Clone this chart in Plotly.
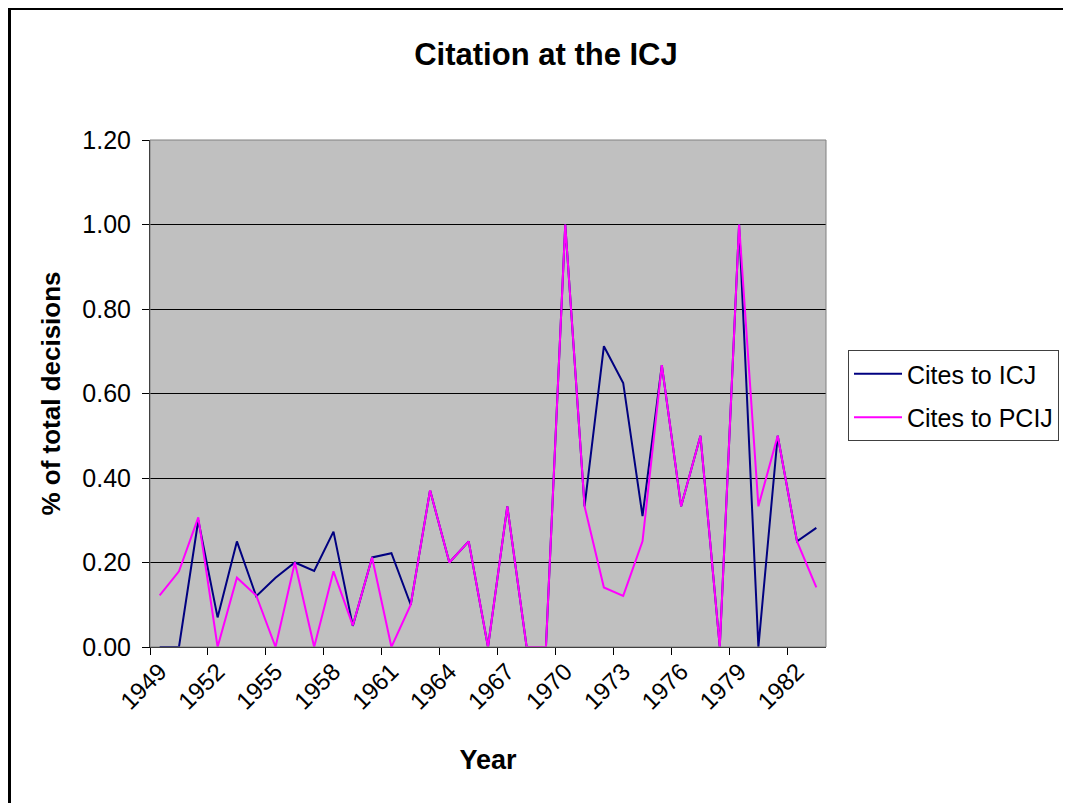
import plotly.graph_objects as go

years = list(range(1949, 1984))
cites_icj = [0, 0, 0.30, 0.07, 0.25, 0.12, 0.164, 0.20, 0.18, 0.273, 0.05, 0.212, 0.222, 0.10,
             0.371, 0.20, 0.25, 0, 0.333, 0, 0, 1.00, 0.333, 0.712, 0.625, 0.31, 0.667, 0.333,
             0.50, 0, 1.00, 0, 0.50, 0.25, 0.282]
cites_pcij = [0.122, 0.179, 0.307, 0, 0.164, 0.122, 0, 0.20, 0, 0.179, 0.051, 0.212, 0, 0.10,
              0.371, 0.20, 0.25, 0, 0.333, 0, 0, 1.00, 0.333, 0.141, 0.121, 0.25, 0.667, 0.333,
              0.50, 0, 1.00, 0.333, 0.50, 0.25, 0.141]
tick_years = list(range(1949, 1984, 3))
y_ticks = [0, 0.2, 0.4, 0.6, 0.8, 1.0, 1.2]

# page body has an 8px margin; work in figure coordinates (screen - 8)
OFF = 8
W, H = 1071 - OFF, 803 - OFF
L, R, T, B = 150 - OFF, 826 - OFF, 140 - OFF, 647 - OFF

font = "Liberation Sans, Arial, sans-serif"

fig = go.Figure()
fig.add_trace(go.Scatter(x=years, y=cites_icj, mode="lines", name="Cites to ICJ",
                         legendgroup="icj",
                         line=dict(color="#000080", width=2)))
fig.add_trace(go.Scatter(x=years, y=cites_pcij, mode="lines", name="Cites to PCIJ",
                         legendgroup="pcij",
                         line=dict(color="#FF00FF", width=2)))

def px_x(p):
    return (p - OFF - L) / (R - L)

def px_y(p):
    return (B - (p - OFF)) / (B - T)

fig.update_layout(
    width=W, height=H,
    margin=dict(l=L, r=W - R, t=T, b=H - B, autoexpand=False),
    paper_bgcolor="white",
    plot_bgcolor="#C0C0C0",
    font=dict(family=font, size=24, color="black"),
    title=dict(text="<b>Citation at the ICJ</b>", x=(546 - OFF) / W, xanchor="center",
               y=1 - (54 - OFF) / H, yanchor="middle", font=dict(size=31, family=font)),
    xaxis=dict(
        range=[1948.5, 1983.5],
        tickmode="array", tickvals=tick_years, ticktext=[str(t) for t in tick_years],
        tickangle=-45, ticks="", showgrid=False,
        showline=True, linecolor="black", linewidth=1,
        minor=dict(tickmode="linear", tick0=1948.5, dtick=3, ticks="outside",
                   ticklen=7, tickcolor="black", showgrid=False),
        title=dict(text="<b>Year</b>", font=dict(size=27), standoff=36),
        zeroline=False,
    ),
    yaxis=dict(
        range=[0, 1.2],
        tickmode="array", tickvals=y_ticks, tickformat=".2f",
        ticks="outside", ticklen=7, tickcolor="black",
        ticklabelstandoff=6,
        tickfont=dict(size=25),
        showgrid=True, gridcolor="#000000", gridwidth=1,
        showline=True, linecolor="black", linewidth=1,
        zeroline=False,
        title=dict(text="<b>% of total decisions</b>", font=dict(size=26), standoff=14),
    ),
    legend=dict(
        x=px_x(848), y=px_y(350), xanchor="left", yanchor="top",
        bgcolor="white", bordercolor="#404040", borderwidth=1,
        font=dict(size=25, family=font), tracegroupgap=8, itemwidth=48,
    ),
    shapes=[
        dict(type="rect", xref="paper", yref="paper",
             x0=px_x(150), x1=px_x(826), y0=px_y(647), y1=px_y(140),
             line=dict(color="#808080", width=1), layer="above"),
        dict(type="rect", xref="paper", yref="paper",
             x0=px_x(9.5), x1=px_x(1100), y0=px_y(830), y1=px_y(8.5),
             line=dict(color="black", width=3)),
    ],
)

fig.write_html("out.html")
